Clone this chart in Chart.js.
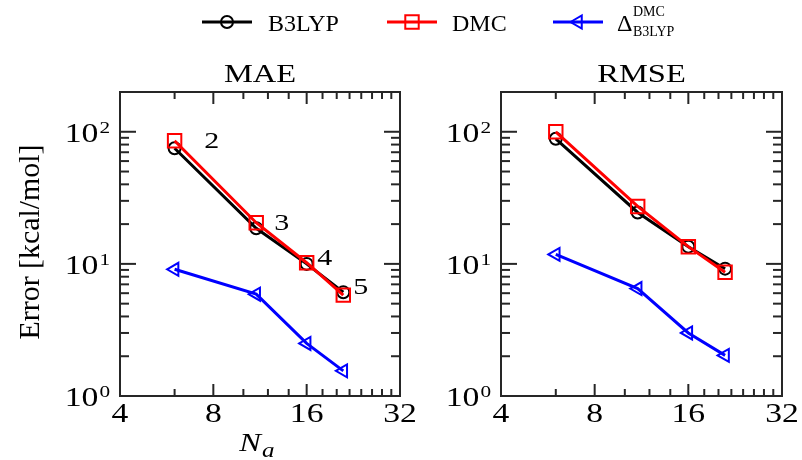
<!DOCTYPE html>
<html>
<head>
<meta charset="utf-8">
<script src="https://cdn.jsdelivr.net/npm/chart.js@4.4.1/dist/chart.umd.min.js"></script>
<style>
  body { margin: 0; background: #fff; }
  #wrap { position: relative; width: 802px; height: 460px; }
  #wrap canvas { position: absolute; left: 0; top: 0; }
</style>
</head>
<body>
<div id="wrap">
  <canvas id="mae" width="802" height="460"></canvas>
  <canvas id="rmse" width="802" height="460"></canvas>
</div>
<script>
// Nombre d'atomes (axe x)
const na = [6, 11, 16, 21];

// MAE
const maeB3lyp = [75, 18.6, 10.0, 6.1];
const maeDmc = [85.5, 20.5, 10.2, 5.8];
const maeDelta = [9.1, 5.9, 2.5, 1.55];

// RMSE
const rmseB3lyp = [88.5, 24.5, 13.5, 9.2];
const rmseDmc = [100, 27.2, 13.5, 8.65];
const rmseDelta = [11.8, 6.5, 3.0, 2.03];

// Etiquettes des tailles (n = 2..5) placees en coordonnees de donnees
const sizeLabels = ['2', '3', '4', '5'];
const sizeLabelX = [7.9, 13.3, 18.3, 23.9];
const sizeLabelY = [87, 20.8, 11.3, 6.8];

// Graduations
const xMajor = [4, 8, 16, 32];
const xMinor = [6, 10, 12, 14, 18, 20, 22, 24, 26, 28, 30];
const yMajor = [1, 10, 100];
const yExp = ['0', '1', '2'];
const yMinor = [2, 3, 4, 5, 6, 7, 8, 9, 20, 30, 40, 50, 60, 70, 80, 90];

const SERIF = '"Liberation Serif", "Times New Roman", serif';
const FRAME = '#262626';

const styles = {
    b3lyp: { color: '#000000', pointStyle: 'circle', radius: 6, rotation: 0 },
    dmc: { color: '#ff0000', pointStyle: 'rect', radius: 9.5, rotation: 0 },
    delta: { color: '#0000ff', pointStyle: 'triangle', radius: 7.5, rotation: -90 }
};

function toPoints(xs, ys) {
    return xs.map((x, i) => ({ x: x, y: ys[i] }));
}

function makeDataset(label, values, st, order) {
    return {
        label: label,
        data: toPoints(na, values),
        showLine: true,
        borderColor: st.color,
        borderWidth: 3,
        pointStyle: st.pointStyle,
        pointRadius: st.radius,
        pointRotation: st.rotation,
        pointBorderColor: st.color,
        pointBackgroundColor: 'rgba(0,0,0,0)',
        pointBorderWidth: 2,
        order: order
    };
}

function drawText(ctx, text, x, y, font, align, sx) {
    ctx.save();
    ctx.font = font;
    ctx.translate(x, y);
    ctx.scale(sx, 1);
    ctx.textAlign = align;
    ctx.textBaseline = 'alphabetic';
    ctx.fillStyle = '#000';
    ctx.fillText(text, 0, 0);
    ctx.restore();
}

function drawMarker(ctx, st, x, y) {
    ctx.save();
    ctx.strokeStyle = st.color;
    ctx.fillStyle = 'rgba(0,0,0,0)';
    ctx.lineWidth = 2;
    Chart.helpers.drawPoint(ctx, { pointStyle: st.pointStyle, radius: st.radius, rotation: st.rotation, borderWidth: 2 }, x, y);
    ctx.restore();
}

// Legende commune en haut de la figure
function drawLegend(ctx) {
    const items = [
        { st: styles.b3lyp, x0: 202, text: 'B3LYP', tx: 268 },
        { st: styles.dmc, x0: 387, text: 'DMC', tx: 452 },
        { st: styles.delta, x0: 553, text: null, tx: 617 }
    ];
    const ly = 22;
    items.forEach(it => {
        ctx.save();
        ctx.strokeStyle = it.st.color;
        ctx.lineWidth = 3;
        ctx.beginPath();
        ctx.moveTo(it.x0, ly);
        ctx.lineTo(it.x0 + 50, ly);
        ctx.stroke();
        ctx.restore();
        drawMarker(ctx, it.st, it.x0 + 25, ly);
        if (it.text) {
            drawText(ctx, it.text, it.tx, 31, '24px ' + SERIF, 'left', 1);
        } else {
            drawText(ctx, '\u0394', it.tx, 31, '24px ' + SERIF, 'left', 1);
            drawText(ctx, 'DMC', it.tx + 16, 16, '14px ' + SERIF, 'left', 1);
            drawText(ctx, 'B3LYP', it.tx + 16, 36, '14px ' + SERIF, 'left', 1);
        }
    });
}

function makePanelPlugin(cfg) {
    return {
        id: 'panel_' + cfg.title,
        afterDraw(chart) {
            const ctx = chart.ctx;
            const a = chart.chartArea;
            const xs = chart.scales.x;
            const ys = chart.scales.y;

            // Cadre
            ctx.save();
            ctx.strokeStyle = FRAME;
            ctx.lineWidth = 2;
            ctx.strokeRect(a.left, a.top, a.right - a.left, a.bottom - a.top);

            // Graduations vers l'interieur
            const tick = (x1, y1, x2, y2) => {
                ctx.beginPath();
                ctx.moveTo(x1, y1);
                ctx.lineTo(x2, y2);
                ctx.stroke();
            };
            xMajor.forEach(v => {
                const px = xs.getPixelForValue(v);
                tick(px, a.bottom, px, a.bottom - 12);
                tick(px, a.top, px, a.top + 12);
            });
            xMinor.forEach(v => {
                const px = xs.getPixelForValue(v);
                tick(px, a.bottom, px, a.bottom - 7);
                tick(px, a.top, px, a.top + 7);
            });
            yMajor.forEach(v => {
                const py = ys.getPixelForValue(v);
                tick(a.left, py, a.left + 16, py);
                tick(a.right, py, a.right - 16, py);
            });
            yMinor.forEach(v => {
                const py = ys.getPixelForValue(v);
                tick(a.left, py, a.left + 9, py);
                tick(a.right, py, a.right - 9, py);
            });
            ctx.restore();

            // Etiquettes de l'axe x
            xMajor.forEach(v => {
                drawText(ctx, String(v), xs.getPixelForValue(v), a.bottom + 26, '28px ' + SERIF, 'center', 1.2);
            });

            // Etiquettes de l'axe y (10^n)
            yMajor.forEach((v, i) => {
                const py = ys.getPixelForValue(v);
                const right = a.left - 10;
                ctx.save();
                ctx.font = '17px ' + SERIF;
                const supW = ctx.measureText(yExp[i]).width * 1.25;
                ctx.restore();
                drawText(ctx, yExp[i], right, py + 1, '17px ' + SERIF, 'right', 1.25);
                drawText(ctx, '10', right - supW - 1, py + 10, '27px ' + SERIF, 'right', 1.25);
            });

            // Titre du panneau
            drawText(ctx, cfg.title, (a.left + a.right) / 2, a.top - 10, '26px ' + SERIF, 'center', 1.25);

            if (cfg.axisTitles) {
                // Titre de l'axe y
                ctx.save();
                ctx.translate(39, (a.top + a.bottom) / 2 - 2);
                ctx.rotate(-Math.PI / 2);
                ctx.scale(1.03, 1);
                ctx.font = '29px ' + SERIF;
                ctx.textAlign = 'center';
                ctx.fillStyle = '#000';
                ctx.fillText('Error [kcal/mol]', 0, 0);
                ctx.restore();

                // Titre de l'axe x : N_a
                const cx = (a.left + a.right) / 2;
                drawText(ctx, 'N', cx + 1, 451, 'italic 26px ' + SERIF, 'right', 1.25);
                drawText(ctx, 'a', cx + 2, 457, 'italic 20px ' + SERIF, 'left', 1.25);

                // Etiquettes n = 2..5
                sizeLabels.forEach((t, i) => {
                    drawText(ctx, t, xs.getPixelForValue(sizeLabelX[i]), ys.getPixelForValue(sizeLabelY[i]) + 8,
                        '24px ' + SERIF, 'center', 1.25);
                });

                drawLegend(ctx);
            }
        }
    };
}

function makePanel(canvasId, title, b3, dmc, delta, padding, axisTitles) {
    const ctx = document.getElementById(canvasId).getContext('2d');
    return new Chart(ctx, {
        type: 'scatter',
        data: {
            datasets: [
                makeDataset('B3LYP', b3, styles.b3lyp, 3),
                makeDataset('DMC', dmc, styles.dmc, 2),
                makeDataset('Delta', delta, styles.delta, 1)
            ]
        },
        options: {
            responsive: false,
            animation: false,
            layout: { padding: padding },
            scales: {
                x: { type: 'logarithmic', min: 4, max: 32, display: false },
                y: { type: 'logarithmic', min: 1, max: 200, display: false }
            },
            plugins: {
                legend: { display: false },
                tooltip: { enabled: false }
            }
        },
        plugins: [makePanelPlugin({ title: title, axisTitles: axisTitles })]
    });
}

makePanel('mae', 'MAE', maeB3lyp, maeDmc, maeDelta, { left: 120, right: 402, top: 92, bottom: 64 }, true);
makePanel('rmse', 'RMSE', rmseB3lyp, rmseDmc, rmseDelta, { left: 501, right: 20, top: 92, bottom: 64 }, false);
</script>
</body>
</html>
